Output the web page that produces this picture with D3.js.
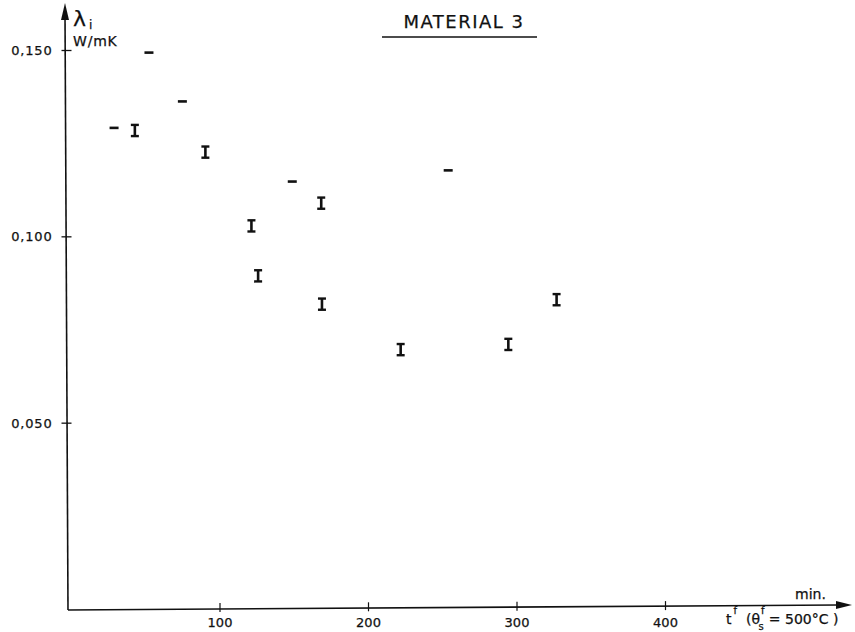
<!DOCTYPE html>
<html>
<head>
<meta charset="utf-8">
<title>Material 3</title>
<script src="https://cdn.jsdelivr.net/npm/d3@7"></script>
<style>
  body { margin: 0; background: #fff; }
  svg text { font-family: "DejaVu Sans", "Liberation Sans", sans-serif; fill: #111; stroke: #111; stroke-width: 0.25; }
</style>
</head>
<body>
<div id="chart"></div>
<script>
// single readings (drawn as dashes)
var singleTime = [29, 52.5, 75, 149, 254];
var singleLambda = [0.1291, 0.1493, 0.1362, 0.1147, 0.1177];

// readings with scatter band (drawn as I bars)
var rangeTime = [43, 90.5, 121.5, 126, 168.5, 169, 222, 294.5, 327];
var rangeLambda = [0.1284, 0.1226, 0.1028, 0.0894, 0.1089, 0.0818, 0.0696, 0.0710, 0.0830];
var rangeHalf = [0.0015, 0.0015, 0.0015, 0.0015, 0.0015, 0.0015, 0.0015, 0.0015, 0.0015];

var xTicks = [100, 200, 300, 400];
var xTickLabels = ["100", "200", "300", "400"];
var yTicks = [0.05, 0.10, 0.15];
var yTickLabels = ["0,050", "0,100", "0,150"];

var width = 855, height = 632;

var x = d3.scaleLinear().domain([0, 400]).range([71, 665]);
var y = d3.scaleLinear().domain([0, 0.15]).range([609, 50]);

var svg = d3.select("#chart").append("svg")
  .attr("width", width)
  .attr("height", height);

// axes lines with arrows
var axisG = svg.append("g").attr("stroke", "#111").attr("stroke-width", 1.6);

axisG.append("line")
  .attr("x1", x(0) - 3).attr("y1", y(0) + 1)
  .attr("x2", x(0) - 6).attr("y2", 14);
svg.append("path")
  .attr("d", "M" + (x(0) - 6) + ",3 L" + (x(0) - 10) + ",20 L" + (x(0) - 2) + ",20 Z")
  .attr("fill", "#111");

axisG.append("line")
  .attr("x1", x(0) - 3).attr("y1", y(0) + 1)
  .attr("x2", 838).attr("y2", y(0) - 4);
svg.append("path")
  .attr("d", "M852," + (y(0) - 4) + " L836," + (y(0) - 8) + " L836," + (y(0)) + " Z")
  .attr("fill", "#111");

// y ticks
var yAxis = svg.append("g")
  .attr("transform", "translate(" + (x(0) - 4.5) + ",0)")
  .call(d3.axisLeft(y).tickValues(yTicks).tickSize(5)
    .tickFormat(function(d, i) { return yTickLabels[i]; }));
yAxis.select(".domain").remove();
yAxis.selectAll(".tick line").attr("x1", -5).attr("x2", 5).attr("stroke", "#111").attr("stroke-width", 1.3);
yAxis.selectAll(".tick text")
  .attr("x", -14).attr("font-size", 13).attr("dy", "0.35em").attr("letter-spacing", 0.8)
  .style("font-family", "DejaVu Sans, sans-serif");

// x ticks
var xAxis = svg.append("g")
  .attr("transform", "translate(0," + (y(0) - 0.5) + ")")
  .call(d3.axisBottom(x).tickValues(xTicks).tickSize(5)
    .tickFormat(function(d, i) { return xTickLabels[i]; }));
xAxis.select(".domain").remove();
xAxis.selectAll(".tick line")
  .attr("y1", function(d) { return -5 - d * 0.006; })
  .attr("y2", function(d) { return 4 - d * 0.006; })
  .attr("stroke", "#111").attr("stroke-width", 1.2);
xAxis.selectAll(".tick text")
  .attr("y", 9).attr("font-size", 13)
  .style("font-family", "DejaVu Sans, sans-serif");

// axis titles
var yl = svg.append("text").attr("x", 73).attr("y", 26).attr("font-size", 22);
yl.append("tspan").text("λ");
yl.append("tspan").attr("font-size", 12).attr("dx", 3).attr("dy", 3).text("i");
svg.append("text").attr("x", 73).attr("y", 46).attr("font-size", 14).attr("letter-spacing", 0.8).text("W/mK");

svg.append("text").attr("x", 795).attr("y", 599).attr("font-size", 14).text("min.");
var xl = svg.append("text").attr("x", 726).attr("y", 624).attr("font-size", 14);
xl.append("tspan").text("t");
xl.append("tspan").attr("font-size", 10).attr("dx", 2).attr("dy", -10).text("f");
xl.append("tspan").attr("dx", 9).attr("dy", 10).text("(θ");
xl.append("tspan").attr("font-size", 10).attr("dx", 1).attr("dy", -10).text("f");
xl.append("tspan").attr("font-size", 10).attr("dx", -6).attr("dy", 16).text("s");
xl.append("tspan").attr("dx", 5).attr("dy", -6).text("= 500°C )");

// title
svg.append("text").attr("x", 464).attr("y", 28).attr("text-anchor", "middle")
  .attr("font-size", 18).attr("letter-spacing", 1.5).text("MATERIAL  3");
svg.append("line").attr("x1", 382).attr("x2", 537).attr("y1", 37).attr("y2", 37)
  .attr("stroke", "#111").attr("stroke-width", 1.6);

// dashes
svg.append("g").selectAll("line")
  .data(d3.range(singleTime.length))
  .enter().append("line")
  .attr("x1", function(i) { return x(singleTime[i]) - 4.5; })
  .attr("x2", function(i) { return x(singleTime[i]) + 4.5; })
  .attr("y1", function(i) { return y(singleLambda[i]); })
  .attr("y2", function(i) { return y(singleLambda[i]); })
  .attr("stroke", "#111").attr("stroke-width", 2.6);

// I bars
var bars = svg.append("g").selectAll("g")
  .data(d3.range(rangeTime.length))
  .enter().append("g")
  .attr("stroke", "#111");

bars.append("line")
  .attr("x1", function(i) { return x(rangeTime[i]); })
  .attr("x2", function(i) { return x(rangeTime[i]); })
  .attr("y1", function(i) { return y(rangeLambda[i] + rangeHalf[i]); })
  .attr("y2", function(i) { return y(rangeLambda[i] - rangeHalf[i]); })
  .attr("stroke-width", 2.6);

[1, -1].forEach(function(s) {
  bars.append("line")
    .attr("x1", function(i) { return x(rangeTime[i]) - 4; })
    .attr("x2", function(i) { return x(rangeTime[i]) + 4; })
    .attr("y1", function(i) { return y(rangeLambda[i] + s * rangeHalf[i]); })
    .attr("y2", function(i) { return y(rangeLambda[i] + s * rangeHalf[i]); })
    .attr("stroke-width", 2.4);
});
</script>
</body>
</html>
